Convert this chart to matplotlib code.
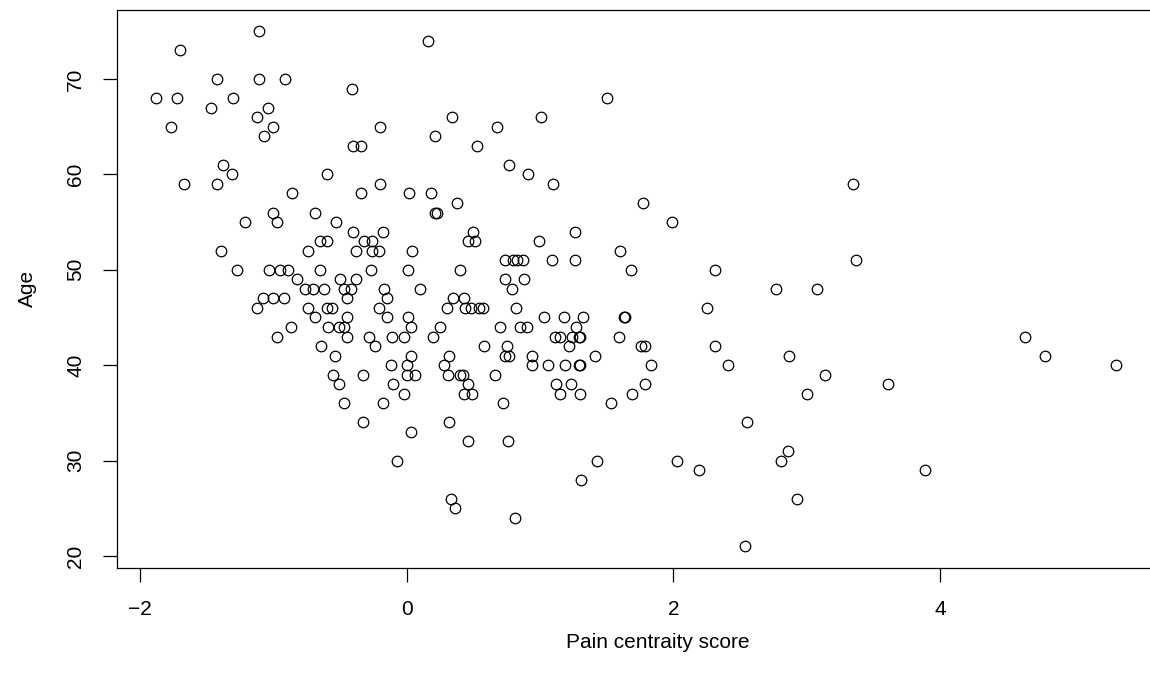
import matplotlib
matplotlib.use("Agg")
import matplotlib.pyplot as plt

# ---- data (age rows are integers) ----
age_75 = [-1.11]
age_74 = [0.16]
age_73 = [-1.70]
age_70 = [-1.42, -1.11, -0.91]
age_69 = [-0.41]
age_68 = [-1.88, -1.72, -1.30, 1.50]
age_67 = [-1.47, -1.04]
age_66 = [-1.12, 0.34, 1.01]
age_65 = [-1.77, -1.00, -0.20, 0.68]
age_64 = [-1.07, 0.21]
age_63 = [-0.40, -0.34, 0.53]
age_61 = [-1.38, 0.77]
age_60 = [-1.31, -0.60, 0.91]
age_59 = [-1.67, -1.42, -0.20, 1.10, 3.35]
age_58 = [-0.86, -0.34, 0.02, 0.18]
age_57 = [0.38, 1.77]
age_56 = [-1.00, -0.69, 0.21, 0.23]
age_55 = [-1.21, -0.97, -0.53, 1.99]
age_54 = [-0.40, -0.18, 0.50, 1.26]
age_53 = [-0.65, -0.60, -0.32, -0.26, 0.46, 0.51, 0.99]
age_52 = [-1.39, -0.74, -0.38, -0.26, -0.21, 0.04, 1.60]
age_51 = [0.74, 0.80, 0.83, 0.87, 1.09, 1.26, 3.37]
age_50 = [-1.27, -1.03, -0.95, -0.89, -0.65, -0.27, 0.01, 0.40, 1.68, 2.31]
age_49 = [-0.82, -0.50, -0.38, 0.74, 0.88]
age_48 = [-0.76, -0.70, -0.62, -0.47, -0.42, -0.17, 0.10, 0.79, 2.77, 3.08]
age_47 = [-1.08, -1.00, -0.92, -0.45, -0.15, 0.35, 0.43]
age_46 = [-1.12, -0.74, -0.60, -0.56, -0.21, 0.30, 0.44, 0.48, 0.54, 0.57, 0.82, 2.25]
age_45 = [-0.69, -0.45, -0.15, 0.01, 1.03, 1.18, 1.32, 1.63, 1.64]
age_44 = [-0.87, -0.59, -0.51, -0.47, 0.03, 0.25, 0.70, 0.85, 0.90, 1.27]
age_43 = [-0.97, -0.45, -0.28, -0.11, -0.02, 0.20, 1.11, 1.15, 1.24, 1.29, 1.30, 1.59, 4.64]
age_42 = [-0.64, -0.24, 0.58, 0.75, 1.22, 1.76, 1.79, 2.31]
age_41 = [-0.54, 0.03, 0.32, 0.74, 0.77, 0.94, 1.41, 2.87, 4.79]
age_40 = [-0.12, 0.00, 0.28, 0.94, 1.06, 1.19, 1.29, 1.30, 1.83, 2.41, 5.32]
age_39 = [-0.55, -0.33, 0.00, 0.06, 0.31, 0.40, 0.42, 0.66, 3.14]
age_38 = [-0.51, -0.10, 0.46, 1.12, 1.23, 1.79, 3.61]
age_37 = [-0.02, 0.43, 0.49, 1.15, 1.30, 1.69, 3.00]
age_36 = [-0.47, -0.18, 0.72, 1.53]
age_34 = [-0.33, 0.32, 2.55]
age_33 = [0.03]
age_32 = [0.46, 0.76]
age_31 = [2.86]
age_30 = [-0.07, 1.43, 2.03, 2.81]
age_29 = [2.19, 3.89]
age_28 = [1.31]
age_26 = [0.33, 2.93]
age_25 = [0.36]
age_24 = [0.81]
age_21 = [2.54]

rows = {
    75: age_75, 74: age_74, 73: age_73, 70: age_70, 69: age_69, 68: age_68,
    67: age_67, 66: age_66, 65: age_65, 64: age_64, 63: age_63, 61: age_61,
    60: age_60, 59: age_59, 58: age_58, 57: age_57, 56: age_56, 55: age_55,
    54: age_54, 53: age_53, 52: age_52, 51: age_51, 50: age_50, 49: age_49,
    48: age_48, 47: age_47, 46: age_46, 45: age_45, 44: age_44, 43: age_43,
    42: age_42, 41: age_41, 40: age_40, 39: age_39, 38: age_38, 37: age_37,
    36: age_36, 34: age_34, 33: age_33, 32: age_32, 31: age_31, 30: age_30,
    29: age_29, 28: age_28, 26: age_26, 25: age_25, 24: age_24, 21: age_21,
}
pain_score = []
age = []
for a, xs in rows.items():
    for x in xs:
        pain_score.append(x)
        age.append(a)

x_ticks = [-2, 0, 2, 4]
y_ticks = [20, 30, 40, 50, 60, 70]

plt.rcParams['font.family'] = ['Liberation Sans', 'DejaVu Sans']
plt.rcParams['axes.unicode_minus'] = True

W, H = 1150, 683
fig = plt.figure(figsize=(W / 100, H / 100), dpi=100)
left_px, right_px, top_px, bottom_px = 117.3, 1199.0, 10.0, 567.7
ax = fig.add_axes([left_px / W, (H - bottom_px) / H,
                   (right_px - left_px) / W, (bottom_px - top_px) / H])

ax.plot(pain_score, age, linestyle='none', marker='o', markersize=7.6,
        markerfacecolor='none', markeredgecolor='black', markeredgewidth=0.9)

ax.set_xlim(-2.171, (right_px - 406.7) / 133.33)
ax.set_ylim(18.77, 77.23)
ax.set_xticks(x_ticks)
ax.set_yticks(y_ticks)
ax.set_xticklabels([f"{t}".replace('-', '\u2212') for t in x_ticks])
ax.set_yticklabels([str(t) for t in y_ticks], rotation=90, va='center')

for s in ax.spines.values():
    s.set_linewidth(0.9)
    s.set_color('black')
ax.tick_params(axis='both', direction='out', length=10, width=0.9,
               labelsize=15, colors='black')
ax.tick_params(axis='x', pad=13)
ax.tick_params(axis='y', pad=13)

ax.set_xlabel('Pain centraity score', fontsize=15)
ax.set_ylabel('Age', fontsize=15)
ax.xaxis.set_label_coords((658 - left_px) / (right_px - left_px),
                          -(643 - bottom_px) / (bottom_px - top_px))
ax.xaxis.label.set_va('center')
ax.yaxis.set_label_coords(-(left_px - 27) / (right_px - left_px), 0.5)
ax.yaxis.label.set_va('center')

fig.savefig('out.png', dpi=100)
